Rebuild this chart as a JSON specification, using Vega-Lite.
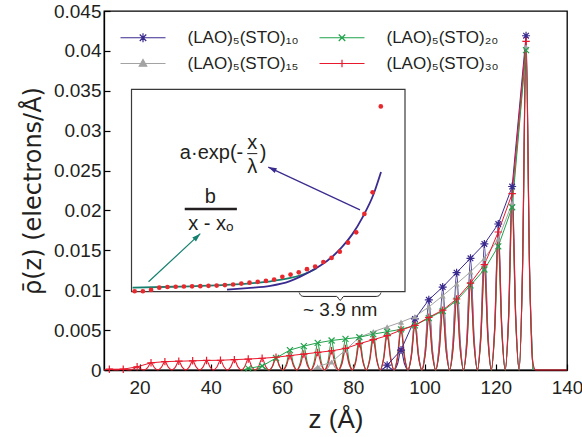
{
"$schema":"https://vega.github.io/schema/vega-lite/v6.json",
"width":463,"height":359,
"autosize":{"type":"none"},
"padding":{"left":104,"top":11,"right":15,"bottom":67},
"config":{"font":"Liberation Sans","view":{"stroke":"#000","strokeWidth":1.3},
 "axis":{"grid":false,"domainColor":"#000","domainWidth":1.3,"tickColor":"#000","tickWidth":1.2,"labelColor":"#231f20","titleColor":"#231f20","titleFontWeight":"normal","labelFont":"Liberation Sans","titleFont":"Liberation Sans"}},
"datasets":{
"c":[
{"s":"10","z":87.55,"v":0},{"s":"10","z":88.5,"v":0.00018},{"s":"10","z":89.5,"v":0.0006,"k":1},{"s":"10","z":90.5,"v":0.00018},{"s":"10","z":91.45,"v":0},
{"s":"10","z":92.4,"v":0.00075},{"s":"10","z":93.4,"v":0.0025,"k":1},{"s":"10","z":94.4,"v":0.00075},{"s":"10","z":95.35,"v":0},
{"s":"10","z":96.3,"v":0.00192},{"s":"10","z":97.3,"v":0.0064,"k":1},{"s":"10","z":98.3,"v":0.00192},{"s":"10","z":99.25,"v":0},
{"s":"10","z":100.2,"v":0.00264},{"s":"10","z":101.2,"v":0.0088,"k":1},{"s":"10","z":102.2,"v":0.00264},{"s":"10","z":103.15,"v":0},
{"s":"10","z":104.1,"v":0.00312},{"s":"10","z":105.1,"v":0.0104,"k":1},{"s":"10","z":106.1,"v":0.00312},{"s":"10","z":107.05,"v":0},
{"s":"10","z":108.0,"v":0.00366},{"s":"10","z":109.0,"v":0.0122,"k":1},{"s":"10","z":110.0,"v":0.00366},{"s":"10","z":110.95,"v":0},
{"s":"10","z":111.9,"v":0.0042},{"s":"10","z":112.9,"v":0.014,"k":1},{"s":"10","z":113.9,"v":0.0042},{"s":"10","z":114.85,"v":0},
{"s":"10","z":115.8,"v":0.00474},{"s":"10","z":116.8,"v":0.0158,"k":1},{"s":"10","z":117.8,"v":0.00474},{"s":"10","z":118.75,"v":0},
{"s":"10","z":119.7,"v":0.00549},{"s":"10","z":120.7,"v":0.0183,"k":1},{"s":"10","z":121.7,"v":0.00549},{"s":"10","z":122.65,"v":0},
{"s":"10","z":123.6,"v":0.0069},{"s":"10","z":124.6,"v":0.023,"k":1},{"s":"10","z":125.6,"v":0.0069},{"s":"10","z":126.55,"v":0},
{"s":"10","z":127.5,"v":0.01257},{"s":"10","z":128.5,"v":0.0419,"k":1},{"s":"10","z":129.5,"v":0.01257},{"s":"10","z":130.45,"v":0},
{"s":"15","z":68.05,"v":0},{"s":"15","z":69.0,"v":0.00012},{"s":"15","z":70.0,"v":0.0004,"k":1},{"s":"15","z":71.0,"v":0.00012},{"s":"15","z":71.95,"v":0},
{"s":"15","z":72.9,"v":0.0003},{"s":"15","z":73.9,"v":0.001,"k":1},{"s":"15","z":74.9,"v":0.0003},{"s":"15","z":75.85,"v":0},
{"s":"15","z":76.8,"v":0.00075},{"s":"15","z":77.8,"v":0.0025,"k":1},{"s":"15","z":78.8,"v":0.00075},{"s":"15","z":79.75,"v":0},
{"s":"15","z":80.7,"v":0.00123},{"s":"15","z":81.7,"v":0.0041,"k":1},{"s":"15","z":82.7,"v":0.00123},{"s":"15","z":83.65,"v":0},
{"s":"15","z":84.6,"v":0.00144},{"s":"15","z":85.6,"v":0.0048,"k":1},{"s":"15","z":86.6,"v":0.00144},{"s":"15","z":87.55,"v":0},
{"s":"15","z":88.5,"v":0.00162},{"s":"15","z":89.5,"v":0.0054,"k":1},{"s":"15","z":90.5,"v":0.00162},{"s":"15","z":91.45,"v":0},
{"s":"15","z":92.4,"v":0.0018},{"s":"15","z":93.4,"v":0.006,"k":1},{"s":"15","z":94.4,"v":0.0018},{"s":"15","z":95.35,"v":0},
{"s":"15","z":96.3,"v":0.00201},{"s":"15","z":97.3,"v":0.0067,"k":1},{"s":"15","z":98.3,"v":0.00201},{"s":"15","z":99.25,"v":0},
{"s":"15","z":100.2,"v":0.00237},{"s":"15","z":101.2,"v":0.0079,"k":1},{"s":"15","z":102.2,"v":0.00237},{"s":"15","z":103.15,"v":0},
{"s":"15","z":104.1,"v":0.00279},{"s":"15","z":105.1,"v":0.0093,"k":1},{"s":"15","z":106.1,"v":0.00279},{"s":"15","z":107.05,"v":0},
{"s":"15","z":108.0,"v":0.00324},{"s":"15","z":109.0,"v":0.0108,"k":1},{"s":"15","z":110.0,"v":0.00324},{"s":"15","z":110.95,"v":0},
{"s":"15","z":111.9,"v":0.00369},{"s":"15","z":112.9,"v":0.0123,"k":1},{"s":"15","z":113.9,"v":0.00369},{"s":"15","z":114.85,"v":0},
{"s":"15","z":115.8,"v":0.0042},{"s":"15","z":116.8,"v":0.014,"k":1},{"s":"15","z":117.8,"v":0.0042},{"s":"15","z":118.75,"v":0},
{"s":"15","z":119.7,"v":0.00492},{"s":"15","z":120.7,"v":0.0164,"k":1},{"s":"15","z":121.7,"v":0.00492},{"s":"15","z":122.65,"v":0},
{"s":"15","z":123.6,"v":0.00627},{"s":"15","z":124.6,"v":0.0209,"k":1},{"s":"15","z":125.6,"v":0.00627},{"s":"15","z":126.55,"v":0},
{"s":"15","z":127.5,"v":0.01215},{"s":"15","z":128.5,"v":0.0405,"k":1},{"s":"15","z":129.5,"v":0.01215},{"s":"15","z":130.45,"v":0},
{"s":"20","z":48.55,"v":0},{"s":"20","z":49.5,"v":0.00006},{"s":"20","z":50.5,"v":0.0002,"k":1},{"s":"20","z":51.5,"v":0.00006},{"s":"20","z":52.45,"v":0},
{"s":"20","z":53.4,"v":0.00015},{"s":"20","z":54.4,"v":0.0005,"k":1},{"s":"20","z":55.4,"v":0.00015},{"s":"20","z":56.35,"v":0},
{"s":"20","z":57.3,"v":0.00045},{"s":"20","z":58.3,"v":0.0015,"k":1},{"s":"20","z":59.3,"v":0.00045},{"s":"20","z":60.25,"v":0},
{"s":"20","z":61.2,"v":0.00075},{"s":"20","z":62.2,"v":0.0025,"k":1},{"s":"20","z":63.2,"v":0.00075},{"s":"20","z":64.15,"v":0},
{"s":"20","z":65.1,"v":0.0009},{"s":"20","z":66.1,"v":0.003,"k":1},{"s":"20","z":67.1,"v":0.0009},{"s":"20","z":68.05,"v":0},
{"s":"20","z":69.0,"v":0.00102},{"s":"20","z":70.0,"v":0.0034,"k":1},{"s":"20","z":71.0,"v":0.00102},{"s":"20","z":71.95,"v":0},
{"s":"20","z":72.9,"v":0.00111},{"s":"20","z":73.9,"v":0.0037,"k":1},{"s":"20","z":74.9,"v":0.00111},{"s":"20","z":75.85,"v":0},
{"s":"20","z":76.8,"v":0.00117},{"s":"20","z":77.8,"v":0.0039,"k":1},{"s":"20","z":78.8,"v":0.00117},{"s":"20","z":79.75,"v":0},
{"s":"20","z":80.7,"v":0.00123},{"s":"20","z":81.7,"v":0.0041,"k":1},{"s":"20","z":82.7,"v":0.00123},{"s":"20","z":83.65,"v":0},
{"s":"20","z":84.6,"v":0.00135},{"s":"20","z":85.6,"v":0.0045,"k":1},{"s":"20","z":86.6,"v":0.00135},{"s":"20","z":87.55,"v":0},
{"s":"20","z":88.5,"v":0.00144},{"s":"20","z":89.5,"v":0.0048,"k":1},{"s":"20","z":90.5,"v":0.00144},{"s":"20","z":91.45,"v":0},
{"s":"20","z":92.4,"v":0.00153},{"s":"20","z":93.4,"v":0.0051,"k":1},{"s":"20","z":94.4,"v":0.00153},{"s":"20","z":95.35,"v":0},
{"s":"20","z":96.3,"v":0.00168},{"s":"20","z":97.3,"v":0.0056,"k":1},{"s":"20","z":98.3,"v":0.00168},{"s":"20","z":99.25,"v":0},
{"s":"20","z":100.2,"v":0.00195},{"s":"20","z":101.2,"v":0.0065,"k":1},{"s":"20","z":102.2,"v":0.00195},{"s":"20","z":103.15,"v":0},
{"s":"20","z":104.1,"v":0.00222},{"s":"20","z":105.1,"v":0.0074,"k":1},{"s":"20","z":106.1,"v":0.00222},{"s":"20","z":107.05,"v":0},
{"s":"20","z":108.0,"v":0.00261},{"s":"20","z":109.0,"v":0.0087,"k":1},{"s":"20","z":110.0,"v":0.00261},{"s":"20","z":110.95,"v":0},
{"s":"20","z":111.9,"v":0.00318},{"s":"20","z":112.9,"v":0.0106,"k":1},{"s":"20","z":113.9,"v":0.00318},{"s":"20","z":114.85,"v":0},
{"s":"20","z":115.8,"v":0.00378},{"s":"20","z":116.8,"v":0.0126,"k":1},{"s":"20","z":117.8,"v":0.00378},{"s":"20","z":118.75,"v":0},
{"s":"20","z":119.7,"v":0.00465},{"s":"20","z":120.7,"v":0.0155,"k":1},{"s":"20","z":121.7,"v":0.00465},{"s":"20","z":122.65,"v":0},
{"s":"20","z":123.6,"v":0.00612},{"s":"20","z":124.6,"v":0.0204,"k":1},{"s":"20","z":125.6,"v":0.00612},{"s":"20","z":126.55,"v":0},
{"s":"20","z":127.5,"v":0.01203},{"s":"20","z":128.5,"v":0.0401,"k":1},{"s":"20","z":129.5,"v":0.01203},{"s":"20","z":130.45,"v":0},
{"s":"30","z":10,"v":0},{"s":"30","z":11.5,"v":0.0001,"k":1},{"s":"30","z":13.45,"v":0},{"s":"30","z":15.4,"v":0.0001,"k":1},{"s":"30","z":17.35,"v":0},
{"s":"30","z":18.3,"v":0.00012},{"s":"30","z":19.3,"v":0.0004,"k":1},{"s":"30","z":20.3,"v":0.00012},{"s":"30","z":21.25,"v":0},
{"s":"30","z":22.2,"v":0.00027},{"s":"30","z":23.2,"v":0.0009,"k":1},{"s":"30","z":24.2,"v":0.00027},{"s":"30","z":25.15,"v":0},
{"s":"30","z":26.1,"v":0.00032},{"s":"30","z":27.1,"v":0.00105,"k":1},{"s":"30","z":28.1,"v":0.00032},{"s":"30","z":29.05,"v":0},
{"s":"30","z":30.0,"v":0.00033},{"s":"30","z":31.0,"v":0.0011,"k":1},{"s":"30","z":32.0,"v":0.00033},{"s":"30","z":32.95,"v":0},
{"s":"30","z":33.9,"v":0.00035},{"s":"30","z":34.9,"v":0.00115,"k":1},{"s":"30","z":35.9,"v":0.00035},{"s":"30","z":36.85,"v":0},
{"s":"30","z":37.8,"v":0.00036},{"s":"30","z":38.8,"v":0.0012,"k":1},{"s":"30","z":39.8,"v":0.00036},{"s":"30","z":40.75,"v":0},
{"s":"30","z":41.7,"v":0.00037},{"s":"30","z":42.7,"v":0.00122,"k":1},{"s":"30","z":43.7,"v":0.00037},{"s":"30","z":44.65,"v":0},
{"s":"30","z":45.6,"v":0.00039},{"s":"30","z":46.6,"v":0.0013,"k":1},{"s":"30","z":47.6,"v":0.00039},{"s":"30","z":48.55,"v":0},
{"s":"30","z":49.5,"v":0.00041},{"s":"30","z":50.5,"v":0.00137,"k":1},{"s":"30","z":51.5,"v":0.00041},{"s":"30","z":52.45,"v":0},
{"s":"30","z":53.4,"v":0.00044},{"s":"30","z":54.4,"v":0.00147,"k":1},{"s":"30","z":55.4,"v":0.00044},{"s":"30","z":56.35,"v":0},
{"s":"30","z":57.3,"v":0.00048},{"s":"30","z":58.3,"v":0.0016,"k":1},{"s":"30","z":59.3,"v":0.00048},{"s":"30","z":60.25,"v":0},
{"s":"30","z":61.2,"v":0.00054},{"s":"30","z":62.2,"v":0.0018,"k":1},{"s":"30","z":63.2,"v":0.00054},{"s":"30","z":64.15,"v":0},
{"s":"30","z":65.1,"v":0.0006},{"s":"30","z":66.1,"v":0.002,"k":1},{"s":"30","z":67.1,"v":0.0006},{"s":"30","z":68.05,"v":0},
{"s":"30","z":69.0,"v":0.00066},{"s":"30","z":70.0,"v":0.0022,"k":1},{"s":"30","z":71.0,"v":0.00066},{"s":"30","z":71.95,"v":0},
{"s":"30","z":72.9,"v":0.00072},{"s":"30","z":73.9,"v":0.0024,"k":1},{"s":"30","z":74.9,"v":0.00072},{"s":"30","z":75.85,"v":0},
{"s":"30","z":76.8,"v":0.00081},{"s":"30","z":77.8,"v":0.0027,"k":1},{"s":"30","z":78.8,"v":0.00081},{"s":"30","z":79.75,"v":0},
{"s":"30","z":80.7,"v":0.001},{"s":"30","z":81.7,"v":0.0033,"k":1},{"s":"30","z":82.7,"v":0.001},{"s":"30","z":83.65,"v":0},
{"s":"30","z":84.6,"v":0.00114},{"s":"30","z":85.6,"v":0.0038,"k":1},{"s":"30","z":86.6,"v":0.00114},{"s":"30","z":87.55,"v":0},
{"s":"30","z":88.5,"v":0.00129},{"s":"30","z":89.5,"v":0.0043,"k":1},{"s":"30","z":90.5,"v":0.00129},{"s":"30","z":91.45,"v":0},
{"s":"30","z":92.4,"v":0.0015},{"s":"30","z":93.4,"v":0.005,"k":1},{"s":"30","z":94.4,"v":0.0015},{"s":"30","z":95.35,"v":0},
{"s":"30","z":96.3,"v":0.00168},{"s":"30","z":97.3,"v":0.0056,"k":1},{"s":"30","z":98.3,"v":0.00168},{"s":"30","z":99.25,"v":0},
{"s":"30","z":100.2,"v":0.00198},{"s":"30","z":101.2,"v":0.0066,"k":1},{"s":"30","z":102.2,"v":0.00198},{"s":"30","z":103.15,"v":0},
{"s":"30","z":104.1,"v":0.00225},{"s":"30","z":105.1,"v":0.0075,"k":1},{"s":"30","z":106.1,"v":0.00225},{"s":"30","z":107.05,"v":0},
{"s":"30","z":108.0,"v":0.00267},{"s":"30","z":109.0,"v":0.0089,"k":1},{"s":"30","z":110.0,"v":0.00267},{"s":"30","z":110.95,"v":0},
{"s":"30","z":111.9,"v":0.00327},{"s":"30","z":112.9,"v":0.0109,"k":1},{"s":"30","z":113.9,"v":0.00327},{"s":"30","z":114.85,"v":0},
{"s":"30","z":115.8,"v":0.00396},{"s":"30","z":116.8,"v":0.0132,"k":1},{"s":"30","z":117.8,"v":0.00396},{"s":"30","z":118.75,"v":0},
{"s":"30","z":119.7,"v":0.00519},{"s":"30","z":120.7,"v":0.0173,"k":1},{"s":"30","z":121.7,"v":0.00519},{"s":"30","z":122.65,"v":0},
{"s":"30","z":123.6,"v":0.00663},{"s":"30","z":124.6,"v":0.0221,"k":1},{"s":"30","z":125.6,"v":0.00663},{"s":"30","z":126.55,"v":0},
{"s":"30","z":127.5,"v":0.01236},{"s":"30","z":128.5,"v":0.0412,"k":1},{"s":"30","z":129.5,"v":0.01236},{"s":"30","z":130.3,"v":0.0012},{"s":"30","z":131.2,"v":0},{"s":"30","z":140,"v":0}
],
"fit":[
{"f":"b","z":10.5,"v":0.0009},{"f":"b","z":30,"v":0.0011},{"f":"b","z":50,"v":0.0014},{"f":"b","z":65,"v":0.0018},{"f":"b","z":76,"v":0.0023},{"f":"b","z":85,"v":0.003},{"f":"b","z":90,"v":0.0036},{"f":"b","z":95,"v":0.0045},{"f":"b","z":98,"v":0.0052},
{"f":"e","z":55.4,"v":0.00044},{"f":"e","z":65,"v":0.0008},{"f":"e","z":76,"v":0.0013},{"f":"e","z":85,"v":0.0023},{"f":"e","z":90,"v":0.0033},{"f":"e","z":95,"v":0.0045},{"f":"e","z":100,"v":0.0059},{"f":"e","z":105,"v":0.0076},{"f":"e","z":110,"v":0.0099},{"f":"e","z":115,"v":0.0128},{"f":"e","z":120,"v":0.0167},{"f":"e","z":125,"v":0.0216},{"f":"e","z":128.6,"v":0.0266}
]
},
"layer":[
{"encoding":{
  "x":{"field":"z","type":"quantitative","scale":{"domain":[10,140],"nice":false,"zero":false},
       "axis":{"values":[20,40,60,80,100,120,140],"title":"z (Å)","titleFontSize":26,"labelFontSize":19,"tickSize":-6,"labelPadding":14,"titlePadding":9,"labelFlush":false}},
  "y":{"field":"v","type":"quantitative","scale":{"domain":[0,0.045],"nice":false,"zero":false},
       "axis":{"values":[0,0.005,0.01,0.015,0.02,0.025,0.03,0.035,0.04,0.045],"format":"~g","title":"ρ̄(z)  (electrons/Å)","titleFont":"DejaVu Sans","titleFontSize":24,"labelFontSize":19,"tickSize":-6,"labelPadding":9,"titlePadding":8,"labelFlush":false}}},
 "layer":[
  {"data":{"name":"c"},"transform":[{"filter":"datum.s=='10'"}],"mark":{"type":"line","interpolate":"monotone","strokeWidth":1.1},
   "encoding":{"color":{"field":"s","type":"nominal","scale":{"domain":["10","15","20","30"],"range":["#3a2b8e","#a3a3a3","#21a24b","#e8192c"]},
     "legend":{"orient":"none","legendX":30.5,"legendY":18,"columns":2,"columnPadding":18,"rowPadding":8,"title":null,"labelFontSize":17,"labelColor":"#231f20","symbolSize":100,"symbolStrokeWidth":1.2,"labelOffset":36,
      "labelExpr":"datum.label=='10'?'(LAO)₅(STO)₁₀':datum.label=='15'?'(LAO)₅(STO)₁₅':datum.label=='20'?'(LAO)₅(STO)₂₀':'(LAO)₅(STO)₃₀'",
      "encode":{"symbols":{"update":{
        "shape":{"signal":"datum.value=='10'?'M-4.5,0H4.5M0,-0.9V0.9M-0.9,0H0.9M-0.65,-0.65L0.65,0.65M-0.65,0.65L0.65,-0.65':datum.value=='15'?'M-4.5,0H4.5M0,-0.8L0.75,0.55L-0.75,0.55Z':datum.value=='20'?'M-4.5,0H4.5M-0.65,-0.65L0.65,0.65M-0.65,0.65L0.65,-0.65':'M-4.5,0H4.5M0,-0.75V0.75M-0.75,0H0.75'"},
        "fill":{"signal":"datum.value=='15'?'#a3a3a3':'transparent'"}}}}}}}},
  {"data":{"name":"c"},"transform":[{"filter":"datum.s=='15'"}],"mark":{"type":"line","interpolate":"monotone","strokeWidth":1.1},"encoding":{"color":{"field":"s","type":"nominal"}}},
  {"data":{"name":"c"},"transform":[{"filter":"datum.s=='20'"}],"mark":{"type":"line","interpolate":"monotone","strokeWidth":1.1},"encoding":{"color":{"field":"s","type":"nominal"}}},
  {"data":{"name":"c"},"transform":[{"filter":"datum.s=='30'"}],"mark":{"type":"line","interpolate":"monotone","strokeWidth":1.1},"encoding":{"color":{"field":"s","type":"nominal"}}},
  {"data":{"name":"c"},"transform":[{"filter":"datum.k==1"}],"mark":{"type":"line","strokeWidth":1},"encoding":{"color":{"field":"s","type":"nominal"},"detail":{"field":"s"}}},
  {"data":{"name":"c"},"transform":[{"filter":"datum.k==1 && datum.s=='10'"}],"mark":{"type":"point","shape":"M0,-1V1M-1,0H1M-0.7,-0.7L0.7,0.7M-0.7,0.7L0.7,-0.7","size":64,"filled":false,"color":"#3a2b8e","strokeWidth":1.2,"opacity":1},"encoding":{}},
  {"data":{"name":"c"},"transform":[{"filter":"datum.k==1 && datum.s=='15'"}],"mark":{"type":"point","shape":"triangle-up","size":36,"filled":true,"color":"#a3a3a3","opacity":1},"encoding":{}},
  {"data":{"name":"c"},"transform":[{"filter":"datum.k==1 && datum.s=='20'"}],"mark":{"type":"point","shape":"M-1,-1L1,1M-1,1L1,-1","size":36,"filled":false,"color":"#21a24b","strokeWidth":1.2,"opacity":1},"encoding":{}},
  {"data":{"name":"c"},"transform":[{"filter":"datum.k==1 && datum.s=='30'"}],"mark":{"type":"point","shape":"M-1,0H1M0,-1V1","size":56,"filled":false,"color":"#e8192c","strokeWidth":1.2,"opacity":1},"encoding":{}}
 ]},
{"encoding":{
  "x":{"field":"z","type":"quantitative","scale":{"domain":[10,140],"range":[27.5,301],"nice":false,"zero":false},"axis":null},
  "y":{"field":"v","type":"quantitative","scale":{"domain":[0,0.045],"range":[280.7,78.3],"nice":false,"zero":false},"axis":null}},
 "layer":[
  {"data":{"values":[{"z":10,"z2":140,"v":0,"v2":0.045}]},"mark":{"type":"rect","fill":"#fff","stroke":"#3a3a3a","strokeWidth":1.2},"encoding":{"x2":{"field":"z2"},"y2":{"field":"v2"}}},
  {"data":{"values":[{"z":20},{"z":40},{"z":60},{"z":80},{"z":100},{"z":120}]},"mark":{"type":"rule","color":"#3a3a3a","strokeWidth":1},"encoding":{"y":{"datum":0,"type":"quantitative","scale":{"domain":[0,0.045],"range":[280.7,78.3],"nice":false,"zero":false},"axis":null},"y2":{"datum":0.001}}},
  {"data":{"values":[{"z":20},{"z":40},{"z":60},{"z":80},{"z":100},{"z":120}]},"mark":{"type":"rule","color":"#3a3a3a","strokeWidth":1},"encoding":{"y":{"datum":0.045,"type":"quantitative","scale":{"domain":[0,0.045],"range":[280.7,78.3],"nice":false,"zero":false},"axis":null},"y2":{"datum":0.044}}},
  {"data":{"values":[{"v":0.005},{"v":0.01},{"v":0.015},{"v":0.02},{"v":0.025},{"v":0.03},{"v":0.035},{"v":0.04}]},"mark":{"type":"rule","color":"#3a3a3a","strokeWidth":1},"encoding":{"x":{"datum":10,"type":"quantitative","scale":{"domain":[10,140],"range":[27.5,301],"nice":false,"zero":false},"axis":null},"x2":{"datum":12.2}}},
  {"data":{"values":[{"v":0.005},{"v":0.01},{"v":0.015},{"v":0.02},{"v":0.025},{"v":0.03},{"v":0.035},{"v":0.04}]},"mark":{"type":"rule","color":"#3a3a3a","strokeWidth":1},"encoding":{"x":{"datum":140,"type":"quantitative","scale":{"domain":[10,140],"range":[27.5,301],"nice":false,"zero":false},"axis":null},"x2":{"datum":137.8}}},
  {"data":{"values":[{"z":89.7},{"z":128.6}]},"mark":{"type":"rule","color":"#555","strokeWidth":0.9,"strokeDash":[2,2]},"encoding":{"y":{"datum":0,"type":"quantitative","scale":{"domain":[0,0.045],"range":[280.7,78.3],"nice":false,"zero":false},"axis":null},"y2":{"datum":0.045}}},
  {"data":{"name":"fit"},"transform":[{"filter":"datum.f=='b'"}],"mark":{"type":"line","interpolate":"monotone","color":"#15806e","strokeWidth":1.8},"encoding":{}},
  {"data":{"name":"fit"},"transform":[{"filter":"datum.f=='e'"}],"mark":{"type":"line","interpolate":"monotone","color":"#3a2b8e","strokeWidth":1.8},"encoding":{}},
  {"data":{"name":"c"},"transform":[{"filter":"datum.k==1 && datum.s=='30'"}],"mark":{"type":"point","filled":true,"color":"#e8282d","size":22,"opacity":1},"encoding":{}},
  {"data":{"values":[{"z":18.1,"v":0.0022},{"z":42.7,"v":0.0129}]},"mark":{"type":"line","color":"#15806e","strokeWidth":1.2},"encoding":{}},
  {"data":{"values":[{"z":42.7,"v":0.0129}]},"mark":{"type":"point","shape":"M0,0L0.9,2.8L-0.9,2.8Z","angle":47,"filled":true,"size":36,"color":"#15806e","opacity":1},"encoding":{}},
  {"data":{"values":[{"z":118.6,"v":0.0182},{"z":75.0,"v":0.0277}]},"mark":{"type":"line","color":"#3a2b8e","strokeWidth":1.2},"encoding":{}},
  {"data":{"values":[{"z":75.0,"v":0.0277}]},"mark":{"type":"point","shape":"M0,0L0.9,2.8L-0.9,2.8Z","angle":295,"filled":true,"size":36,"color":"#3a2b8e","opacity":1},"encoding":{}},
  {"data":{"values":[{"t":"a·exp(-","z":63.1,"v":0.0294}]},"mark":{"type":"text","align":"right","baseline":"alphabetic","fontSize":20,"color":"#231f20"},"encoding":{"text":{"field":"t"}}},
  {"data":{"values":[{"t":"x","z":67.4,"v":0.0317},{"t":"λ","z":67.4,"v":0.0264},{"t":")","z":72.5,"v":0.0294},{"t":"b","z":47.5,"v":0.0197},{"t":"x - xₒ","z":47.7,"v":0.0137}]},"mark":{"type":"text","align":"center","baseline":"alphabetic","fontSize":20,"color":"#231f20"},"encoding":{"text":{"field":"t"}}},
  {"data":{"values":[{"t":"~ 3.9 nm","z":109.2,"v":-0.0055}]},"mark":{"type":"text","align":"center","baseline":"alphabetic","fontSize":19,"color":"#231f20"},"encoding":{"text":{"field":"t"}}},
  {"data":{"values":[{"z":65.0,"z2":69.8,"v":0.0307}]},"mark":{"type":"rule","color":"#231f20","strokeWidth":1},"encoding":{"x2":{"field":"z2"}}},
  {"data":{"values":[{"z":35.3,"z2":60.1,"v":0.0184}]},"mark":{"type":"rule","color":"#231f20","strokeWidth":2.5},"encoding":{"x2":{"field":"z2"}}},
  {"data":{"values":[{"z":89.7,"v":-0.0002},{"z":90.7,"v":-0.0009},{"z":92,"v":-0.00105},{"z":107.5,"v":-0.00105},{"z":109.2,"v":-0.0019},{"z":110.9,"v":-0.00105},{"z":126.3,"v":-0.00105},{"z":127.6,"v":-0.0009},{"z":128.6,"v":-0.0002}]},"mark":{"type":"line","interpolate":"monotone","color":"#231f20","strokeWidth":1},"encoding":{}}
 ]}
],
"resolve":{"scale":{"x":"independent","y":"independent"}}
}
